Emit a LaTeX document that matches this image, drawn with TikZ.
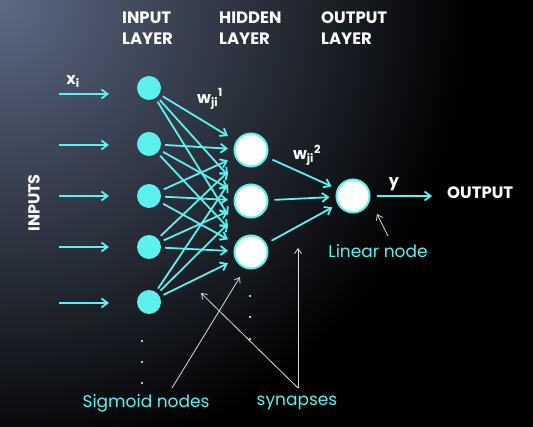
\documentclass[tikz,border=0pt]{standalone}
\usepackage{fontspec}
\setmainfont{Poppins}
\usetikzlibrary{arrows.meta,calc}
\definecolor{cy}{RGB}{92,240,238}
\definecolor{bgtl}{RGB}{92,106,132}
\definecolor{notec}{RGB}{220,220,220}
\begin{document}
\begin{tikzpicture}[x=1pt,y=-1pt,
  inp/.style={circle,fill=cy,inner sep=0pt,minimum size=24pt},
  hid/.style={circle,fill=white,draw=cy,line width=2pt,inner sep=0pt,minimum size=33pt},
  syn/.style={cy,line width=1.8pt,-{Straight Barb[length=6pt,width=9pt,line width=1.8pt]}},
  note/.style={notec,line width=0.8pt,-{Straight Barb[length=5pt,width=7pt,line width=0.8pt]}},
  hdr/.style={white,font=\bfseries\fontsize{16.5}{21}\selectfont,align=left,anchor=north west,inner sep=0pt},
  wlbl/.style={white,font=\bfseries\fontsize{16}{19}\selectfont,inner sep=0pt},
  lbl/.style={cy,font=\fontsize{17}{20}\selectfont,inner sep=0pt},
  dotn/.style={circle,fill=white,inner sep=0pt,minimum size=2.2pt}
]
% background
\fill[black] (0,0) rectangle (533,427);
\begin{scope}
  \clip (0,0) rectangle (533,427);
  \shade[inner color=bgtl,outer color=black] (0,0) circle[radius=470pt];
\end{scope}
\useasboundingbox (0,0) rectangle (533,427);

% headers
\node[hdr] (hin)  at (122,11.5) {INPUT\\LAYER};
\node[hdr] (hhid) at (219,11.5) {HIDDEN\\LAYER};
\node[hdr] (hout) at (321,11.5) {OUTPUT\\LAYER};

% nodes
\node[inp] (i1) at (149,88) {};
\node[inp] (i2) at (149,144) {};
\node[inp] (i3) at (149,196) {};
\node[inp] (i4) at (149,247) {};
\node[inp] (i5) at (149,302) {};
\node[hid] (h1) at (251,150) {};
\node[hid] (h2) at (251,201) {};
\node[hid] (h3) at (251,252) {};
\node[hid] (o)  at (353,196) {};

% input arrows
\foreach \k/\y in {1/94,2/145,3/196,4/247,5/303}{
  \coordinate (as\k) at (59,\y);
  \coordinate (ae\k) at (109,\y);
  \draw[syn] (as\k) -- (ae\k);
}
\node[wlbl,anchor=center] (xi) at (73,82) {x\textsubscript{i}};
\node[white,font=\bfseries\fontsize{16}{19}\selectfont,rotate=90,inner sep=0pt] (inputs) at (34,203) {INPUTS};

% input -> hidden
\foreach \a in {1,...,5}{
  \foreach \b in {1,2,3}{
    \draw[syn,shorten <=4pt] (i\a) -- ($(i\a)!0.7745!(h\b)$);
  }
}
\node[wlbl] (w1) at (210,99) {w\textsubscript{ji}\textsuperscript{1}};

% hidden -> output
\foreach \b in {1,2,3}{
  \draw[syn,shorten <=6pt,shorten >=6pt] (h\b) -- (o);
}
\node[wlbl] (w2) at (307,155) {w\textsubscript{ji}\textsuperscript{2}};

% output arrow
\coordinate (oe) at (432,196);
\draw[syn,shorten <=6pt] (o) -- (oe);
\node[wlbl] (yl) at (394,184) {y};
\node[white,font=\bfseries\fontsize{16.5}{19}\selectfont,inner sep=0pt,anchor=west] (outl) at (447,193) {OUTPUT};

% dots
\foreach \y [count=\n] in {341,362,383}{ \node[dotn] (di\n) at (142,\y) {}; }
\foreach \y [count=\n] in {296,317,339}{ \node[dotn] (dh\n) at (250,\y) {}; }

% annotations
\node[lbl] (lin) at (378,251) {Linear node};
\node[lbl] (sig) at (146,403) {Sigmoid nodes};
\node[lbl] (synl) at (297,403) {synapses};
\coordinate (linA) at (388,236);
\coordinate (linT) at (377,214);
\draw[note] (linA) -- (linT);
\coordinate (sigA) at (172,388);
\coordinate (sigT) at (240,277);
\draw[note] (sigA) -- (sigT);
\coordinate (synA) at (298,388);
\coordinate (synT1) at (201,293);
\coordinate (synT2) at (298,248);
\draw[note] (synA) -- (synT1);
\draw[note] (synA) -- (synT2);
\end{tikzpicture}
\end{document}
